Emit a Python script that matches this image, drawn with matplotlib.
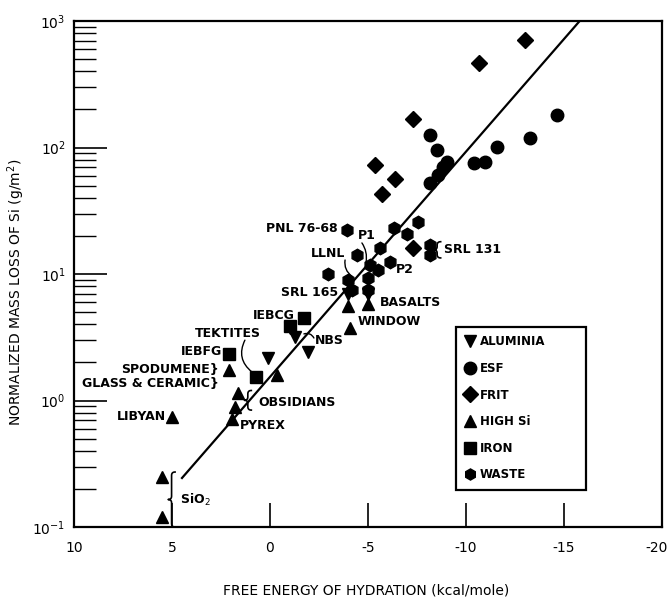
import matplotlib
matplotlib.use("Agg")
import matplotlib.pyplot as plt
import matplotlib.transforms as mtransforms
import numpy as np
from matplotlib.lines import Line2D

# values (x: kcal/mole, y: g/m^2)
aluminia_x = [-1.02, -1.28, -1.94, 0.10, -3.98, -5.0]
aluminia_y = [3.74, 3.18, 2.42, 2.17, 7.0, 7.0]

esf_x = [-14.64, -13.27, -11.58, -10.97, -10.4, -8.16, -8.52, -9.03, -8.16, -8.57, -8.83]
esf_y = [181, 119, 101, 77, 75, 126, 95, 77, 52.5, 61, 70]

frit_x = [-13.0, -10.66, -7.3, -5.36, -6.38, -5.71, -7.3]
frit_y = [708, 466, 168, 72.8, 56.4, 43, 16.1]

highsi_x = [5.51, 5.51, 5.0, 1.94, 1.79, 1.63, 2.09, -0.36, -3.98, -5.0, -4.08]
highsi_y = [0.248, 0.12, 0.74, 0.71, 0.89, 1.15, 1.75, 1.59, 5.6, 5.8, 3.74]

iron_x = [-1.73, 2.09, 0.71, -1.02]
iron_y = [4.49, 2.33, 1.53, 3.9]

waste_x = [-3.93, -6.33, -7.55, -6.99, -5.61, -8.16, -8.16, -4.44, -6.12,
           -2.96, -5.1, -5.51, -5.0, -3.98, -4.18, -5.0]
waste_y = [22.3, 23.1, 25.8, 20.7, 16.1, 16.9, 14.1, 14.1, 12.4,
           10.0, 11.8, 10.8, 9.3, 9.0, 7.5, 7.5]

fit_x = [4.49, -15.8]
fit_y = [0.244, 1000]

# sample labels: text, x, y, horizontal alignment
labels = [
    ("PNL 76-68", -3.47, 22.7, "right"),
    ("P1", -4.49, 20.0, "left"),
    ("LLNL", -3.83, 14.4, "right"),
    ("P2", -6.43, 10.8, "left"),
    ("SRL 131", -8.88, 15.5, "left"),
    ("SRL 165", -3.47, 7.2, "right"),
    ("BASALTS", -5.61, 6.0, "left"),
    ("WINDOW", -4.49, 4.18, "left"),
    ("NBS", -2.30, 3.0, "left"),
    ("IEBCG", -1.28, 4.66, "right"),
    ("TEKTITES", 2.14, 3.36, "center"),
    ("IEBFG", 2.45, 2.42, "right"),
    ("SPODUMENE}", 2.60, 1.77, "right"),
    ("GLASS & CERAMIC}", 2.60, 1.37, "right"),
    ("LIBYAN", 5.31, 0.753, "right"),
    ("OBSIDIANS", 0.61, 0.97, "left"),
    ("PYREX", 1.53, 0.64, "left"),
    ("SiO$_2$", 4.59, 0.164, "left"),
]

# leader lines: (x0, y0, x1, y1, curvature)
leaders = [
    (-3.83, 12.9, -4.18, 9.6, 0.3),
    (-4.69, 17.6, -4.9, 12.4, -0.2),
    (1.28, 3.0, 0.92, 1.68, 0.4),
    (-2.24, 3.12, -1.73, 3.36, 0.4),
]

# curly braces: x of tip, y bottom, y top
braces = [
    (5.2, 0.1, 0.272),
    (1.31, 0.84, 1.2),
    (-8.35, 13.4, 18.0),
]

plt.rcParams["font.family"] = "DejaVu Sans"
fig = plt.figure(figsize=(6.71, 6.07), dpi=100)
ax = fig.add_axes([74 / 671, 1 - 527 / 607, 588 / 671, 506 / 607])
ax.set_yscale("log")
ax.set_xlim(10, -20)
ax.set_ylim(0.1, 1000)

ax.plot(fit_x, fit_y, color="black", lw=1.6, zorder=2)

ax.plot(aluminia_x, aluminia_y, "v", color="black", ms=9, zorder=3)
ax.plot(esf_x, esf_y, "o", color="black", ms=9, zorder=3)
ax.plot(frit_x, frit_y, "D", color="black", ms=8.5, zorder=3)
ax.plot(highsi_x, highsi_y, "^", color="black", ms=9, zorder=3)
ax.plot(iron_x, iron_y, "s", color="black", ms=8, zorder=3)
ax.plot(waste_x, waste_y, "h", color="black", ms=9, zorder=3)

lab_font = dict(fontsize=9, fontweight="bold", va="center")
for txt, x, y, ha in labels:
    ax.text(x, y, txt, ha=ha, **lab_font)

for x0, y0, x1, y1, rad in leaders:
    ax.annotate("", xy=(x1, y1), xytext=(x0, y0),
                arrowprops=dict(arrowstyle="-", lw=1.0, color="black",
                                connectionstyle=f"arc3,rad={rad}",
                                shrinkA=0, shrinkB=0))


def qbez(p0, p1, p2, n=12):
    t = np.linspace(0, 1, n)[:, None]
    return (1 - t) ** 2 * p0 + 2 * (1 - t) * t * p1 + t ** 2 * p2


def brace(x, ylo, yhi, w=7):
    # "{" with tip pointing left, built in display pixels
    tip, bot = ax.transData.transform((x, ylo))
    _, top = ax.transData.transform((x, yhi))
    mid = (top + bot) / 2
    r = min(w / 2, (top - bot) / 4)
    s = tip + w / 2
    pts = np.vstack([
        qbez(np.array([tip + w, top]), np.array([s, top]), np.array([s, top - r])),
        qbez(np.array([s, mid + r]), np.array([s, mid]), np.array([tip, mid])),
        qbez(np.array([tip, mid]), np.array([s, mid]), np.array([s, mid - r])),
        qbez(np.array([s, bot + r]), np.array([s, bot]), np.array([tip + w, bot])),
    ])
    pts = ax.transAxes.inverted().transform(pts)
    ax.plot(pts[:, 0], pts[:, 1], color="black", lw=1.2,
            transform=ax.transAxes, clip_on=False)


for x, ylo, yhi in braces:
    brace(x, ylo, yhi)

ax.set_yticks([0.1, 1, 10, 100, 1000])
ax.set_yticklabels(["$10^{-1}$", "$10^{0}$", "$10^{1}$", "$10^{2}$", "$10^{3}$"])
ax.set_xticks([10, 5, 0, -5, -10, -15, -20])
ax.set_xticklabels(["10", "5", "0", "-5", "-10", "-15", "-20"])
ax.tick_params(axis="y", which="major", direction="in", length=24, width=1.2,
               labelsize=10, pad=6)
ax.tick_params(axis="y", which="minor", direction="in", length=16, width=1.0)
ax.tick_params(axis="x", which="major", direction="in", length=17, width=1.2,
               labelsize=10, pad=10)
ax.tick_params(axis="x", which="minor", bottom=False)
for sp in ax.spines.values():
    sp.set_linewidth(1.6)

# nudge the last x label so it stays inside the canvas
last = ax.get_xticklabels()[-1]
last.set_transform(last.get_transform() +
                   mtransforms.ScaledTranslation(-4 / 72, 0, fig.dpi_scale_trans))

fig.text(366 / 671, 1 - 590 / 607, "FREE ENERGY OF HYDRATION (kcal/mole)",
         ha="center", va="center", fontsize=10)
fig.text(16 / 671, 1 - 292 / 607, "NORMALIZED MASS LOSS OF Si (g/m$^2$)",
         ha="center", va="center", rotation=90, fontsize=10)

handles = [
    Line2D([], [], marker="v", color="black", ls="none", ms=9),
    Line2D([], [], marker="o", color="black", ms=9, ls="none"),
    Line2D([], [], marker="D", color="black", ms=8, ls="none"),
    Line2D([], [], marker="^", color="black", ms=9, ls="none"),
    Line2D([], [], marker="s", color="black", ms=8, ls="none"),
    Line2D([], [], marker="h", color="black", ms=8, ls="none"),
]
leg = ax.legend(handles, ["ALUMINIA", "ESF", "FRIT", "HIGH Si", "IRON", "WASTE"],
                loc="upper left", bbox_to_anchor=(0.650, 0.047, 0.221, 0.348),
                mode="expand", borderaxespad=0, borderpad=0.7, labelspacing=1.15,
                handlelength=1.0, handletextpad=0.3, fancybox=False,
                framealpha=1, edgecolor="black",
                prop=dict(size=8.5, weight="bold"))
leg.get_frame().set_linewidth(1.6)

fig.savefig("out.png", dpi=100)
